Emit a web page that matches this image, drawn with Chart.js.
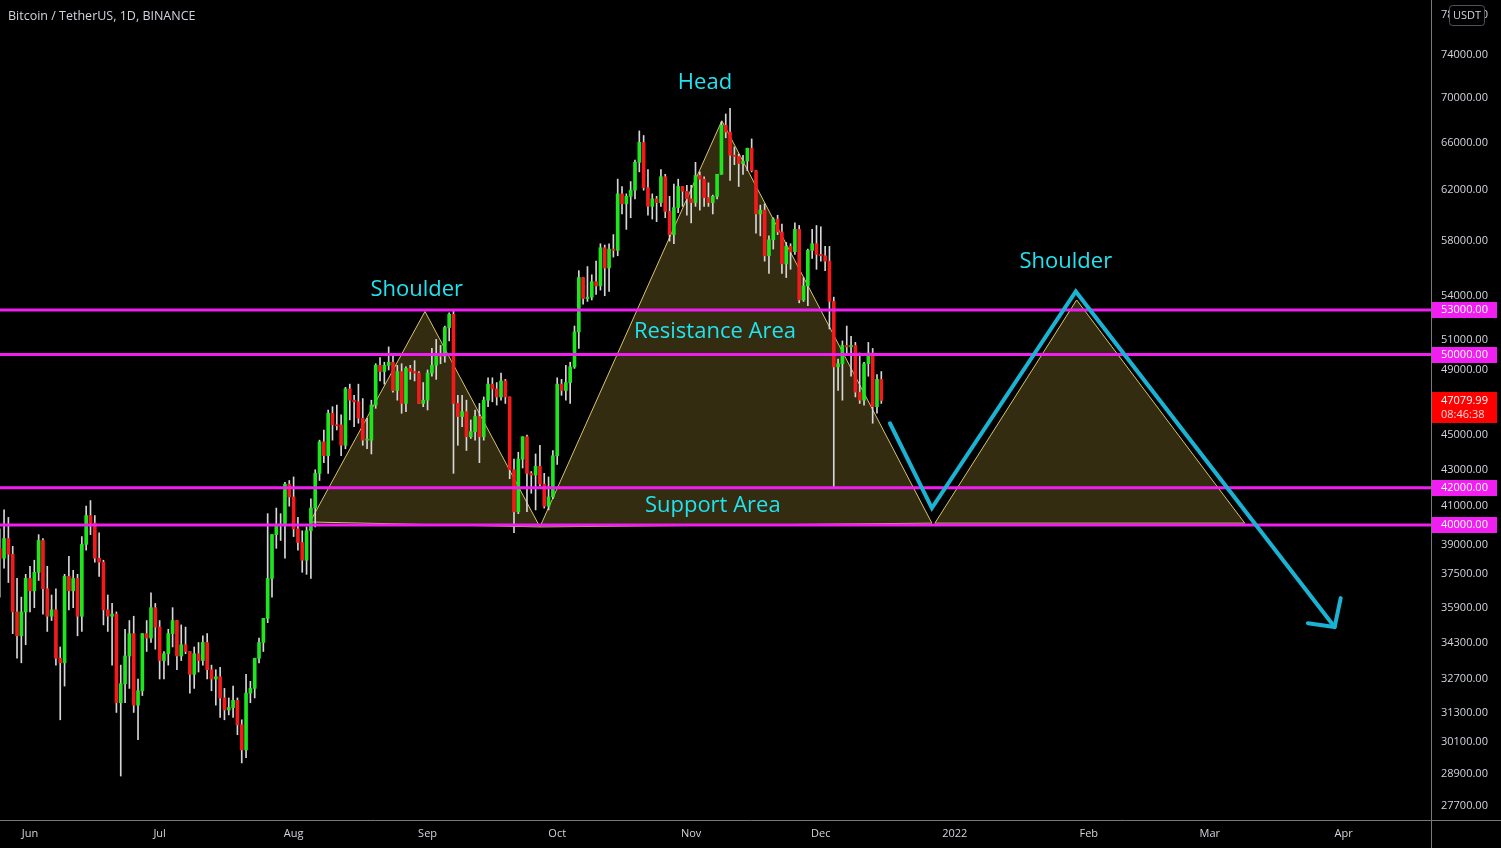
<!DOCTYPE html>
<html>
<head>
<meta charset="utf-8">
<title>Bitcoin / TetherUS, 1D</title>
<script src="https://cdn.jsdelivr.net/npm/chart.js@4.4.1/dist/chart.umd.min.js"></script>
<style>
  html, body { margin: 0; padding: 0; background: #000; }
  #wrap { width: 1501px; height: 848px; }
</style>
</head>
<body>
<div id="wrap"><canvas id="chart" width="1501" height="848"></canvas></div>
<script>
// x axis counts days, day 0 = 1 Jun 2021. First candle is 25 May 2021.
const firstDay = -7;

const opens = [
  38800, 38300, 39300, 38500, 35700, 34600, 35700,
  37300, 36700, 37600, 39200, 36800, 35500, 35800, 33600, 33400, 37400, 36700, 37300, 35500, 39000, 40500,
  40100, 38300, 38100, 35800, 35500, 35600, 31700, 32500, 33700, 34700, 31600, 32200, 34700, 34500, 35900,
  35000, 33500, 33800, 34700, 35300, 33700, 34200, 33900, 32900, 33800, 33500, 34300, 33100, 32700, 32800,
  31900, 31400, 31500, 31800, 30800, 29800, 32100, 32300, 33600, 34300, 35400, 37300, 39500, 40000, 40000, 42200,
  41500, 39800, 39100, 38200, 39700, 40900, 42800, 44600, 43800, 46300, 45600, 45600, 44400, 47800, 47100,
  47000, 46000, 44700, 44700, 46800, 49300, 48900, 49300, 49500, 47700, 48900, 46900, 49100, 48900, 48800, 46900,
  47100, 48800, 49300, 50000, 49900, 51800, 52700, 46900, 46100, 46400, 44900, 45200, 46100, 44900, 47100,
  48100, 47800, 47300, 48300, 47300, 43000, 40700, 43600, 44900, 42800, 42700, 43200, 42200, 41000, 41500,
  43800, 48100, 47700, 48200, 49200, 51500, 55300, 53800, 53900, 55000, 54700, 57500, 56000, 57400, 57300,
  61700, 60900, 61500, 62000, 64300, 66000, 62200, 60700, 61300, 61000, 63100, 60300, 58500, 60600, 62300, 61900,
  61300, 61000, 63200, 62900, 61400, 61000, 61500, 63300, 67500, 66900, 64900, 64800, 64200, 64400, 65500,
  63600, 60100, 60400, 56900, 58100, 59700, 58700, 56300, 57600, 57200, 58900, 53700, 54700, 57300, 57800,
  57000, 56900, 56500, 53600, 49200, 49400, 50600, 50500, 50600, 47600, 47100, 49400, 50100, 46700, 48400
];
const highs = [
  39800, 40800, 40400, 38900, 37300, 36400, 37500,
  37900, 38200, 39500, 39300, 37900, 36500, 36800, 34100, 37500, 38400, 37700, 37500, 39400, 41000, 41300,
  40500, 39600, 38200, 36500, 36100, 35700, 33300, 34900, 35300, 35500, 32700, 34700, 35300, 36600, 36100,
  35300, 33900, 34900, 35900, 35300, 35100, 35000, 33900, 34100, 34300, 34600, 34700, 33300, 33100, 33200,
  32300, 31900, 32400, 31900, 31000, 32900, 32600, 33600, 34500, 35400, 40600, 39500, 40900, 40600, 42300, 42400,
  42600, 40400, 39700, 39900, 41400, 43000, 44700, 45300, 46500, 46700, 46800, 46200, 47900, 48100, 47400,
  48100, 47200, 46000, 47100, 49400, 49800, 49500, 50500, 49900, 49300, 49400, 49200, 49300, 49600, 48900, 48200,
  49000, 50400, 51000, 50600, 51900, 52800, 52900, 47400, 47400, 47100, 45900, 46500, 46900, 47300, 48500,
  48500, 48200, 48800, 48400, 47300, 43600, 44000, 44900, 45000, 42900, 43900, 44400, 42800, 42600, 44100,
  48500, 48400, 49300, 49500, 51900, 55800, 55300, 56100, 55500, 56500, 57800, 57700, 57800, 58500, 62900,
  62300, 61700, 62700, 64500, 67000, 66600, 63700, 61700, 61500, 63700, 63300, 61500, 62500, 62900, 62300, 62400,
  62400, 64300, 63500, 63100, 62600, 61600, 63300, 67800, 68500, 69000, 65600, 65000, 64900, 65500, 66300,
  63600, 60800, 60900, 58400, 59800, 60000, 59300, 57900, 57800, 59400, 59200, 55300, 57400, 58900, 59200,
  59100, 57600, 57600, 53900, 49700, 50900, 51900, 51200, 50800, 50100, 49500, 50800, 50400, 48700, 48900
];
const lows = [
  36400, 37800, 37100, 34700, 33600, 33400, 34200,
  35700, 35900, 37200, 35600, 34800, 35300, 33300, 31000, 32400, 35800, 35900, 34600, 34800, 38700, 39500,
  38100, 37400, 35100, 34800, 33300, 31300, 28800, 31700, 32300, 31300, 30200, 32000, 33900, 34300, 34000,
  32700, 32700, 33300, 34100, 33100, 33500, 33800, 32100, 32300, 33000, 33300, 32700, 32200, 31600, 31100,
  31000, 31200, 31100, 30400, 29300, 29500, 31700, 31900, 33400, 33900, 35200, 36400, 38800, 39200, 38300, 41000,
  39400, 38700, 37600, 37500, 37300, 39900, 42400, 43400, 42800, 44700, 45300, 43800, 44200, 45900, 45500,
  45700, 44400, 44200, 43900, 46600, 48300, 48100, 49000, 47600, 47100, 46300, 46400, 48400, 48300, 46900, 46700,
  46500, 48600, 48400, 49400, 49500, 50900, 42800, 44400, 45500, 44100, 44800, 44700, 43400, 44700, 46700,
  47000, 46800, 47100, 46900, 42500, 39600, 40600, 43100, 40700, 41700, 40800, 42100, 40900, 40800, 41400,
  43300, 47400, 47100, 46900, 49100, 50400, 53400, 53600, 53700, 54100, 54400, 54000, 54300, 56800, 56900,
  60100, 58900, 59800, 61300, 63500, 62000, 60000, 59700, 59500, 60700, 59800, 58000, 57800, 60200, 60700, 60000,
  59400, 60700, 60400, 60700, 60700, 60100, 61300, 63300, 66400, 62800, 64100, 62300, 63300, 63600, 63500,
  58600, 58400, 56500, 55600, 57400, 58500, 55600, 55300, 55900, 57000, 53500, 53600, 53300, 56700, 55900,
  56500, 55800, 51700, 42000, 47700, 47100, 50000, 48600, 47300, 46900, 46800, 48600, 45700, 46300, 46900
];
const closes = [
  38300, 39300, 38500, 35700, 34600, 35700, 37300,
  36700, 37600, 39200, 36800, 35500, 35800, 33600, 33400, 37400, 36700, 37300, 35500, 39000, 40500, 40100,
  38300, 38100, 35800, 35500, 35600, 31700, 32500, 33700, 34700, 31600, 32200, 34700, 34500, 35900, 35000,
  33500, 33800, 34700, 35300, 33700, 34200, 33900, 32900, 33800, 33500, 34300, 33100, 32700, 32800, 31900,
  31400, 31500, 31800, 30800, 29800, 32100, 32300, 33600, 34300, 35400, 37300, 39500, 40000, 40020, 42200, 41500,
  39800, 39100, 38200, 39700, 40900, 42800, 44600, 43800, 46300, 45600, 45550, 44400, 47800, 47100, 47000,
  46000, 44700, 44750, 46800, 49300, 48900, 49300, 49500, 47700, 48900, 46900, 49100, 48900, 48800, 46900, 47100,
  48800, 49300, 50000, 49900, 51800, 52700, 46900, 46100, 46400, 44900, 45200, 46100, 44900, 47100, 48100,
  47800, 47300, 48300, 47300, 43000, 40700, 43600, 44900, 42800, 42700, 43200, 42200, 41000, 41500, 43800,
  48100, 47700, 48200, 49200, 51500, 55300, 53800, 53900, 55000, 54700, 57500, 56000, 57400, 57300, 61700,
  60900, 61500, 62000, 64300, 66000, 62200, 60700, 61300, 61000, 63100, 60300, 58500, 60600, 62300, 61900, 61300,
  61000, 63200, 62900, 61400, 61000, 61500, 63300, 67500, 66900, 64900, 64800, 64200, 64400, 65500, 63600,
  60100, 60400, 56900, 58100, 59700, 58700, 56300, 57600, 57200, 58900, 53700, 54700, 57300, 57800, 57000,
  56900, 56500, 53600, 49200, 49400, 50600, 50500, 50600, 47600, 47100, 49400, 50100, 46700, 48400, 47079.99
];

const monthDays = [0, 30, 61, 92, 122, 153, 183, 214, 245, 273, 304];
const monthLabels = ['Jun', 'Jul', 'Aug', 'Sep', 'Oct', 'Nov', 'Dec', '2022', 'Feb', 'Mar', 'Apr'];
const priceTicks = [78000, 74000, 70000, 66000, 62000, 58000, 54000, 51000, 49000, 45000, 43000, 41000,
  39000, 37500, 35900, 34300, 32700, 31300, 30100, 28900, 27700];
const levels = [53000, 50000, 42000, 40000];
const lastPrice = 47079.99;
const countdown = '08:46:38';

// drawn pattern, points as [day, price]
const leftShoulder = [[64.8, 40160], [91.4, 52900], [118.0, 39900], [64.8, 40160]];
const headShape = [[118.0, 39900], [160.1, 67900], [208.7, 40100], [118.0, 39900]];
const rightShoulder = [[209.4, 40100], [242.2, 53700], [281.1, 40100], [209.4, 40100]];
const projection = [[199.0, 45700], [208.7, 40900], [242.0, 54300], [301.9, 35000]];
const arrowHead = [[295.7, 35180], [301.9, 35000], [303.3, 36350]];
const notes = [
  { text: 'Head', day: 156.2, price: 71340 },
  { text: 'Shoulder', day: 89.5, price: 54410 },
  { text: 'Shoulder', day: 239.7, price: 56440 },
  { text: 'Resistance Area', day: 158.5, price: 51500 },
  { text: 'Support Area', day: 158.0, price: 41010 }
];

// --- styling ---
const UP = '#1ee61e';
const DOWN = '#f21a1a';
const WICK = '#d6d6d6';
const MAGENTA = '#f01ef0';
const SHAPE_FILL = 'rgba(255, 220, 80, 0.2)';
const SHAPE_LINE = '#d8c46a';
const PATH_BLUE = '#1ab3d3';
const NOTE_CYAN = '#22e2f0';
const AXIS_TEXT = '#d1d4dc';
const SEP = '#787878';
const FONT = "'Open Sans', 'DejaVu Sans', sans-serif";

const candleDays = opens.map((_, i) => firstDay + i);
const bodyColors = opens.map((o, i) => (closes[i] >= o ? UP : DOWN));
const toPts = arr => arr.map(([d, p]) => ({ x: d, y: p }));

const lineSet = (pts, color, width, order, extra) => Object.assign({
  type: 'line', data: toPts(pts), borderColor: color, borderWidth: width,
  pointRadius: 0, tension: 0, fill: false, order: order
}, extra || {});

const shapeSet = pts => lineSet(pts, SHAPE_LINE, 1, 10, { fill: 'shape', backgroundColor: SHAPE_FILL });

const datasets = [
  shapeSet(leftShoulder),
  shapeSet(headShape),
  shapeSet(rightShoulder),
  {
    type: 'bar', data: candleDays.map((d, i) => ({ x: d, y: [lows[i], highs[i]] })),
    backgroundColor: WICK, barThickness: 1, grouped: false, order: 6
  },
  {
    type: 'bar', data: candleDays.map((d, i) => ({ x: d, y: [opens[i], closes[i]] })),
    backgroundColor: bodyColors, barThickness: 3, minBarLength: 1, grouped: false, order: 5
  },
  ...levels.map(v => lineSet([[-20, v], [340, v]], MAGENTA, 3, 3)),
  lineSet(projection, PATH_BLUE, 4, 1, { borderCapStyle: 'round', borderJoinStyle: 'miter' }),
  lineSet(arrowHead, PATH_BLUE, 4, 1, { borderCapStyle: 'round', borderJoinStyle: 'round' })
];

const overlay = {
  id: 'overlay',
  afterDatasetsDraw(chart) {
    const { ctx, scales: { x, y } } = chart;
    ctx.save();
    ctx.font = '22px ' + FONT;
    ctx.fillStyle = NOTE_CYAN;
    ctx.textAlign = 'center';
    ctx.textBaseline = 'middle';
    notes.forEach(n => ctx.fillText(n.text, x.getPixelForValue(n.day), y.getPixelForValue(n.price)));
    ctx.restore();
  },
  afterDraw(chart) {
    const { ctx, chartArea, scales: { y } } = chart;
    const W = chart.width, H = chart.height;
    ctx.save();
    // separators
    ctx.strokeStyle = SEP;
    ctx.lineWidth = 1;
    ctx.beginPath();
    ctx.moveTo(chartArea.right + 0.5, 0); ctx.lineTo(chartArea.right + 0.5, H);
    ctx.moveTo(0, chartArea.bottom + 0.5); ctx.lineTo(W, chartArea.bottom + 0.5);
    ctx.stroke();

    // level labels on the price axis
    ctx.font = '11px ' + FONT;
    ctx.textBaseline = 'middle';
    ctx.textAlign = 'left';
    const bx = chartArea.right + 1, bw = 65;
    levels.forEach(v => {
      const py = Math.round(y.getPixelForValue(v));
      ctx.fillStyle = MAGENTA;
      ctx.fillRect(bx, py - 8, bw, 16);
      ctx.fillStyle = '#ffffff';
      ctx.fillText(v.toFixed(2), chartArea.right + 10, py);
    });
    // last price + countdown
    const lp = Math.round(y.getPixelForValue(lastPrice));
    ctx.fillStyle = '#ff0000';
    ctx.fillRect(bx, lp - 9, bw, 31);
    ctx.fillStyle = '#ffffff';
    ctx.fillText(lastPrice.toFixed(2), chartArea.right + 10, lp);
    ctx.fillStyle = '#ffd6d6';
    ctx.fillText(countdown, chartArea.right + 10, lp + 14);

    // currency badge
    ctx.fillStyle = '#000';
    ctx.strokeStyle = '#50535e';
    ctx.beginPath();
    ctx.roundRect(1449.5, 5.5, 35, 20, 3);
    ctx.fill();
    ctx.stroke();
    ctx.fillStyle = AXIS_TEXT;
    ctx.textAlign = 'center';
    ctx.fillText('USDT', 1467, 16);

    // symbol title
    ctx.textAlign = 'left';
    ctx.font = '12.5px ' + FONT;
    ctx.fillText('Bitcoin / TetherUS, 1D, BINANCE', 8, 16);
    ctx.restore();
  }
};

new Chart(document.getElementById('chart'), {
  type: 'bar',
  data: { datasets: datasets },
  options: {
    responsive: false,
    animation: false,
    events: [],
    layout: { padding: 0 },
    plugins: { legend: { display: false }, tooltip: { enabled: false } },
    scales: {
      x: {
        type: 'linear', position: 'bottom', min: -6.94, max: 324.2, offset: false,
        grid: { display: false, drawTicks: false }, border: { display: false },
        afterBuildTicks: s => { s.ticks = monthDays.map(v => ({ value: v })); },
        afterFit: s => { s.height = 28; s.paddingLeft = 0; s.paddingRight = 0; },
        ticks: {
          autoSkip: false, maxRotation: 0, padding: 7, color: AXIS_TEXT,
          font: { family: FONT, size: 11 },
          callback: v => monthLabels[monthDays.indexOf(v)]
        }
      },
      y: {
        type: 'logarithmic', position: 'right', min: 27190, max: 79520,
        grid: { display: false, drawTicks: false }, border: { display: false },
        afterBuildTicks: s => { s.ticks = priceTicks.map(v => ({ value: v })); },
        afterFit: s => { s.width = 70; s.paddingTop = 0; s.paddingBottom = 0; },
        ticks: {
          autoSkip: false, padding: 10, color: AXIS_TEXT,
          font: { family: FONT, size: 11 },
          callback: v => Number(v).toFixed(2)
        }
      }
    }
  },
  plugins: [overlay]
});
</script>
</body>
</html>
